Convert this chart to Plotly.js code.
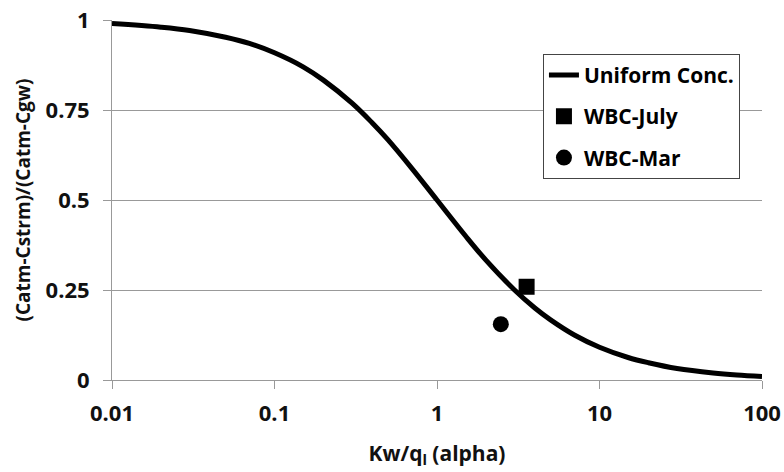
<!DOCTYPE html>
<html>
<head>
<meta charset="utf-8">
<script src="https://cdn.plot.ly/plotly-3.0.1.min.js"></script>
<style>
  html, body { margin: 0; padding: 0; background: #fff; }
  #chart { width: 784px; height: 472px; }
</style>
</head>
<body>
<div id="chart"></div>
<script>
// Uniform concentration curve: ratio vs. Kw/qL (alpha)
const alphaValues = [0.01, 0.02, 0.03, 0.05, 0.07, 0.1, 0.15, 0.2, 0.3, 0.4, 0.5, 0.7, 1, 1.5, 2, 3, 4, 5, 7, 10, 15, 20, 30, 50, 70, 100];
const ratioValues = [0.99, 0.98, 0.971, 0.952, 0.935, 0.909, 0.87, 0.833, 0.769, 0.714, 0.667, 0.588, 0.5, 0.4, 0.333, 0.25, 0.2, 0.167, 0.125, 0.091, 0.0625, 0.048, 0.032, 0.0196, 0.014, 0.0099];

// Field observations
const julyAlpha = [3.56];
const julyRatio = [0.259];
const marAlpha = [2.47];
const marRatio = [0.155];

const seriesNames = ['Uniform Conc.', 'WBC-July', 'WBC-Mar'];
const xTickVals = [0.01, 0.1, 1, 10, 100];
const xTickText = ['0.01', '0.1', '1', '10', '100'];
const yTickVals = [0, 0.25, 0.5, 0.75, 1];
const yTickText = ['0', '0.25', '0.5', '0.75', '1'];

const FONT = '"Open Sans", "DejaVu Sans", sans-serif';

const traces = [
  {
    x: alphaValues, y: ratioValues, name: seriesNames[0],
    type: 'scatter', mode: 'lines',
    line: { color: '#000', width: 5, shape: 'spline' },
    legendgroup: 'a'
  },
  {
    x: julyAlpha, y: julyRatio, name: seriesNames[1],
    type: 'scatter', mode: 'markers',
    marker: { symbol: 'square', size: 16, color: '#000' },
    legendgroup: 'b'
  },
  {
    x: marAlpha, y: marRatio, name: seriesNames[2],
    type: 'scatter', mode: 'markers',
    marker: { symbol: 'circle', size: 16, color: '#000' },
    legendgroup: 'c'
  }
];

const layout = {
  width: 784, height: 472,
  margin: { l: 112, r: 22, t: 20, b: 92 },
  paper_bgcolor: '#fff', plot_bgcolor: '#fff',
  font: { family: FONT, color: '#111', size: 18, weight: 700 },
  showlegend: true,
  legend: {
    x: 0.663, y: 0.906, xanchor: 'left', yanchor: 'top',
    bgcolor: '#fff', bordercolor: '#444', borderwidth: 1,
    font: { family: FONT, size: 21, color: '#000', weight: 700 },
    tracegroupgap: 11,
    itemwidth: 30
  },
  xaxis: {
    type: 'log', range: [-2, 2],
    tickvals: xTickVals, ticktext: xTickText,
    ticks: 'outside', ticklen: 8, tickcolor: '#999', tickwidth: 1,
    ticklabelstandoff: 6,
    showline: true, linecolor: '#999', linewidth: 1,
    showgrid: false, zeroline: false,
    tickfont: { family: FONT, size: 22, color: '#111', weight: 700 },
    title: { text: 'Kw/q<sub>l</sub> (alpha)', standoff: 19,
             font: { family: FONT, size: 21, color: '#111', weight: 700 } }
  },
  yaxis: {
    range: [0, 1],
    tickvals: yTickVals, ticktext: yTickText,
    ticks: 'outside', ticklen: 8, tickcolor: '#999', tickwidth: 1,
    ticklabelstandoff: 9,
    showline: true, linecolor: '#999', linewidth: 1,
    showgrid: true, gridcolor: '#999', gridwidth: 1, zeroline: false,
    tickfont: { family: FONT, size: 22, color: '#111', weight: 700 },
    title: { text: '(Catm-Cstrm)/(Catm-Cgw)', standoff: 9,
             font: { family: FONT, size: 19, color: '#111', weight: 700 } }
  }
};

Plotly.newPlot('chart', traces, layout, { displayModeBar: false, staticPlot: true });
</script>
</body>
</html>
